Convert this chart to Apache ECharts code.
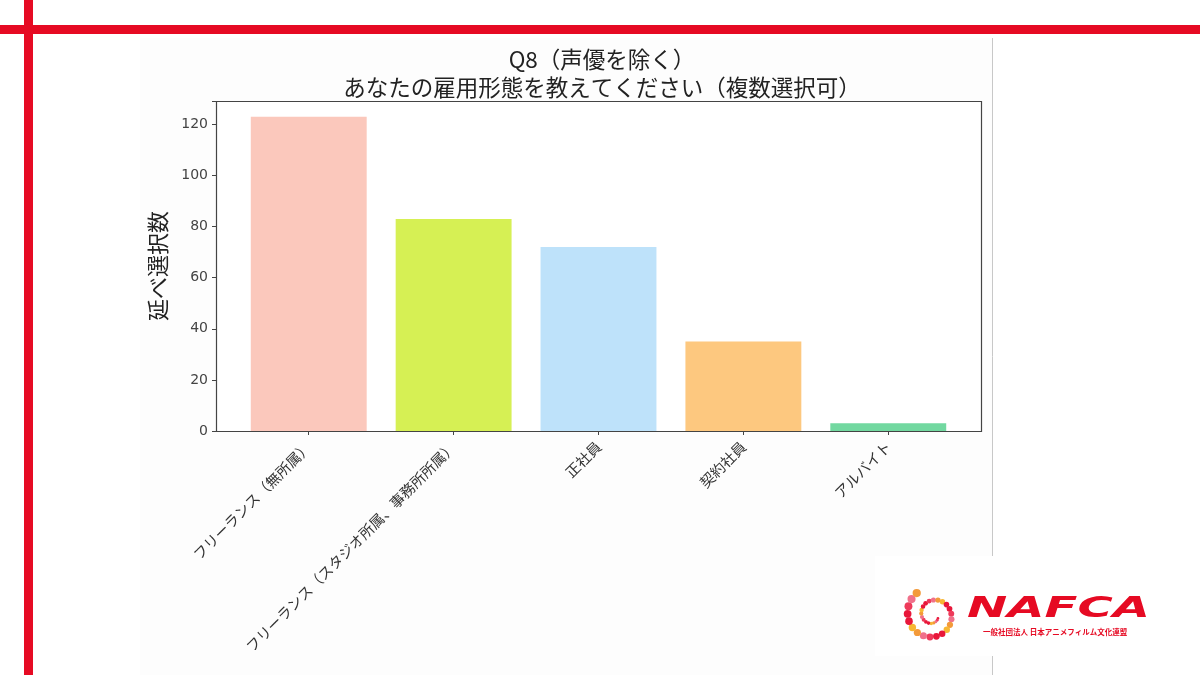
<!DOCTYPE html>
<html><head><meta charset="utf-8">
<script src="https://cdn.jsdelivr.net/npm/echarts@6/dist/echarts.min.js"></script>
<style>html,body{margin:0;padding:0;background:#fff}#c{width:1200px;height:675px}</style>
</head><body><div id="c"></div>
<script>
const titleLines = ['Q8（声優を除く）', 'あなたの雇用形態を教えてください（複数選択可）'];
const categories = ['フリーランス（無所属）', 'フリーランス（スタジオ所属、事務所所属）', '正社員', '契約社員', 'アルバイト'];
const values = [123, 83, 72, 35, 3];
const barColors = ['#fbc8bc', '#d6f054', '#bee2fa', '#fdc87f', '#72d8a0'];
const yAxisName = '延べ選択数';
const yMax = 129.15;

const FONT = '"Noto Sans CJK JP", "Noto Sans", sans-serif';
const chart = echarts.init(document.getElementById('c'));

// Decorative logo dots (spiral)
const dots = [];
const dotCols = ['#e8173a', '#ee3a5a', '#f0708a', '#f39a3a', '#f7b733', '#e8173a'];
for (let i = 0; i < 34; i++) {
  const t = i / 34;
  const ang = t * Math.PI * 3.2 + 0.6;
  const r = 6 + t * 22;
  dots.push({
    type: 'circle',
    shape: { cx: 933 + r * Math.cos(ang), cy: 615 + r * Math.sin(ang), r: 1.4 + t * 2.8 },
    style: { fill: dotCols[i % dotCols.length] }, z: 12
  });
}

chart.setOption({
  backgroundColor: '#ffffff',
  animation: false,
  title: {
    text: titleLines.join('\n'),
    left: 597, textAlign: 'center', top: 40,
    textStyle: { fontFamily: FONT, fontSize: 22.5, fontWeight: 'normal', color: '#222', lineHeight: 28 }
  },
  grid: { left: 236.3, right: 239.3, top: 101, bottom: 244, containLabel: false },
  xAxis: {
    type: 'category', data: categories,
    axisLine: { show: false },
    axisTick: { show: true, alignWithLabel: true, length: 4, lineStyle: { color: '#444' } },
    axisLabel: { rotate: 45, fontFamily: FONT, fontSize: 14.5, color: '#333', margin: 13, interval: 0 }
  },
  yAxis: {
    type: 'value', min: 0, max: yMax, interval: 20, offset: 20.3,
    name: yAxisName, nameLocation: 'middle', nameGap: 47, nameRotate: 90,
    nameTextStyle: { fontFamily: FONT, fontSize: 22, color: '#222' },
    axisLine: { show: false },
    axisTick: { show: true, length: 4, lineStyle: { color: '#444' } },
    splitLine: { show: false },
    axisLabel: { fontFamily: 'DejaVu Sans, sans-serif', fontSize: 14, color: '#444', margin: 8,
      formatter: v => (Math.abs(v % 20) < 1e-6 ? String(v) : '') }
  },
  series: [{
    type: 'bar', barWidth: '80%',
    data: values.map((v, i) => ({ value: v, itemStyle: { color: barColors[i] } }))
  }],
  graphic: [
    { type: 'rect', shape: { x: 140, y: 38, width: 852, height: 637 }, style: { fill: '#fdfdfd' }, z: -10, silent: true },
    { type: 'rect', shape: { x: 216, y: 101, width: 765, height: 330 }, style: { fill: '#fff' }, z: -9, silent: true },
    { type: 'rect', shape: { x: 216.5, y: 101.5, width: 765, height: 330 }, style: { fill: 'none', stroke: '#444', lineWidth: 1.2 }, z: 10, silent: true },
    { type: 'line', shape: { x1: 992.5, y1: 38, x2: 992.5, y2: 675 }, style: { stroke: '#c8c8c8', lineWidth: 1 }, z: 5 },
    { type: 'rect', shape: { x: 875, y: 556, width: 325, height: 100 }, style: { fill: '#fff' }, z: 6 },
    { type: 'rect', shape: { x: 0, y: 25, width: 1200, height: 9 }, style: { fill: '#e60a23' }, z: 20 },
    { type: 'rect', shape: { x: 24, y: 0, width: 9, height: 675 }, style: { fill: '#e60a23' }, z: 20 },
    { type: 'text', x: 967, y: 595, scaleX: 1.66, style: { text: 'NAFCA', fill: '#e60a23', font: 'bold italic 29px "DejaVu Sans", sans-serif', textVerticalAlign: 'top' }, z: 12 },
    { type: 'text', x: 983, y: 628, style: { text: '一般社団法人 日本アニメフィルム文化連盟', fill: '#e60a23', font: 'bold 7.5px "Noto Sans CJK JP", sans-serif' }, z: 12 }
  ].concat(dots)
});
</script></body></html>
